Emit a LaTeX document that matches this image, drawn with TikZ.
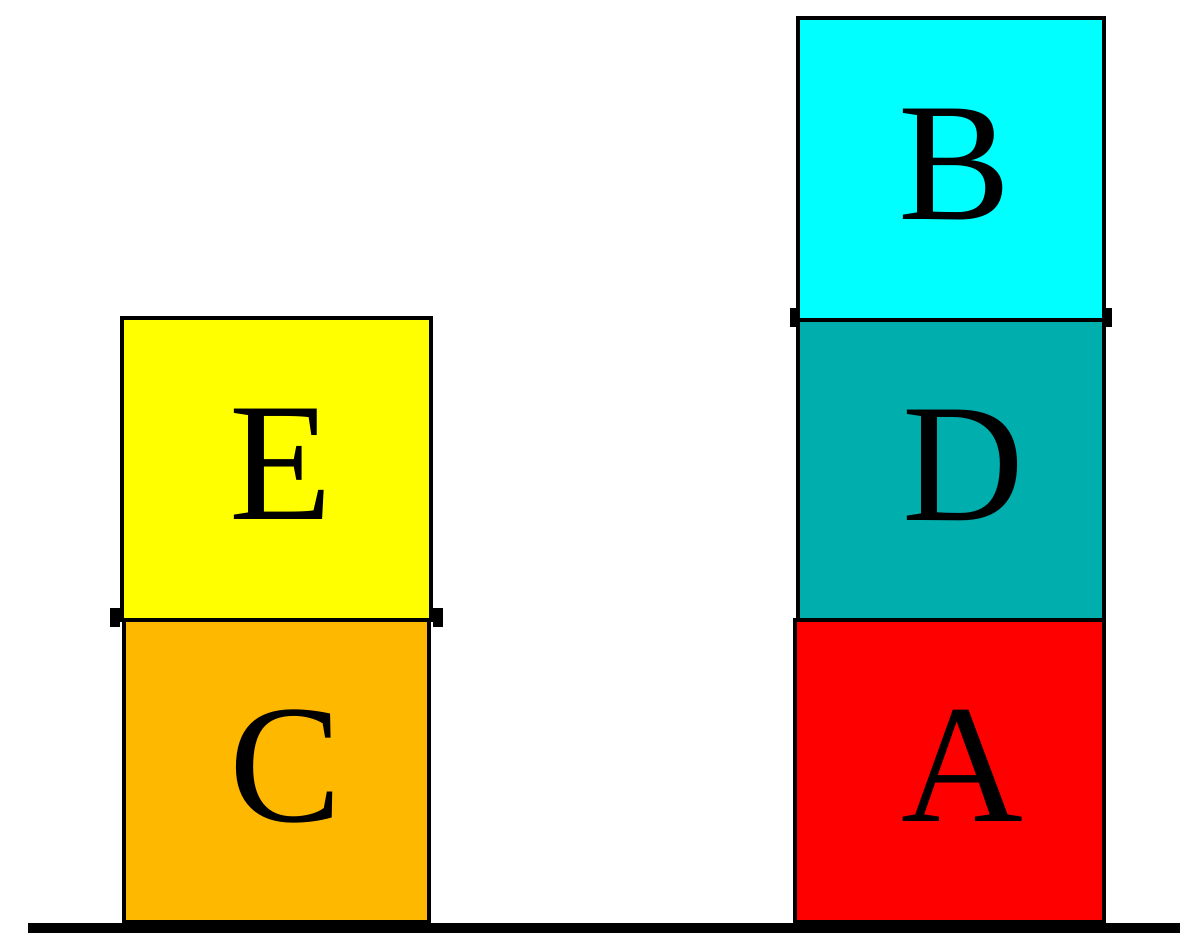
\documentclass[tikz,border=0pt]{standalone}
\usepackage{fontspec}
\setmainfont{Liberation Serif}
\usepackage{xcolor}
\usetikzlibrary{positioning}
\definecolor{blkyellow}{HTML}{FFFF00}
\definecolor{blkorange}{HTML}{FFB800}
\definecolor{blkcyan}{HTML}{00FFFF}
\definecolor{blkteal}{HTML}{00AEAE}
\definecolor{blkred}{HTML}{FF0000}
\newcommand{\blktext}[2]{\raisebox{0.1cm}{\kern#1\relax#2}}
\tikzset{
  blk/.style={rectangle,draw,line width=0.9pt,inner sep=0pt,font=\fontsize{48}{48}\selectfont},
  cy/.style={fill=blkyellow}, co/.style={fill=blkorange}, cc/.style={fill=blkcyan},
  ct/.style={fill=blkteal}, cr/.style={fill=blkred},
  tick/.style={line width=5.5pt},
  ground/.style={line width=2.9pt},
}
\begin{document}
\begin{tikzpicture}
  \useasboundingbox (0,0) rectangle (11.8,9.33);
  \node[blk,co,minimum width=3.05cm,minimum height=3.02cm] (C) at (2.765,1.62){\blktext{0.18cm}{C}};
  \node[blk,cy,minimum width=3.09cm,minimum height=3.02cm] (E) at (2.765,4.64){\blktext{0.1cm}{E}};
  \node[blk,cr,minimum width=3.09cm,minimum height=3.02cm] (A) at (9.495,1.62){\blktext{0.26cm}{A}};
  \node[blk,ct,minimum width=3.06cm,minimum height=3.00cm] (D) at (9.51,4.63){\blktext{0.24cm}{D}};
  \node[blk,cc,minimum width=3.06cm,minimum height=3.02cm] (B) at (9.51,7.64){\blktext{0.08cm}{B}};
  \coordinate (g1) at (0.28,0.05);
  \coordinate (g2) at (11.8,0.05);
  \draw[ground] (g1) -- (g2);
  \draw[tick] ([yshift=0.04cm]E.south west) -- ++(-0.1,0);
  \draw[tick] ([yshift=0.04cm]E.south east) -- ++(0.1,0);
  \draw[tick] ([yshift=0.04cm]B.south west) -- ++(-0.06,0);
  \draw[tick] ([yshift=0.04cm]B.south east) -- ++(0.06,0);
\end{tikzpicture}
\end{document}
